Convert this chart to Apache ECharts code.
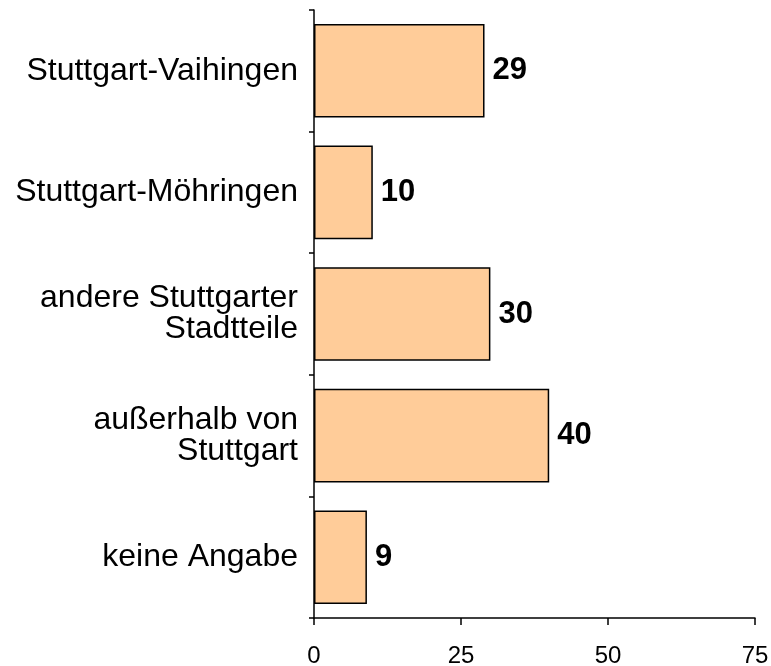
<!DOCTYPE html>
<html>
<head>
<meta charset="utf-8">
<script src="https://cdn.jsdelivr.net/npm/echarts@6/dist/echarts.min.js"></script>
<style>
  html, body { margin: 0; padding: 0; background: #fff; }
  #chart { width: 771px; height: 666px; }
</style>
</head>
<body>
<div id="chart"></div>
<script>
// Wohnort der Befragten (Anzahl)
const categories = [
  'Stuttgart-Vaihingen',
  'Stuttgart-Möhringen',
  'andere Stuttgarter\nStadtteile',
  'außerhalb von\nStuttgart',
  'keine Angabe'
];
const values = [29, 10, 30, 40, 9];
const xTicks = { min: 0, max: 75, interval: 25 };

const chart = echarts.init(document.getElementById('chart'), null, { renderer: 'canvas' });
chart.setOption({
  animation: false,
  backgroundColor: '#ffffff',
  textStyle: { fontFamily: 'Liberation Sans, Arial, sans-serif' },
  grid: { left: 314, right: 16, top: 10, bottom: 48, containLabel: false, outerBoundsMode: 'none' },
  xAxis: {
    type: 'value',
    min: xTicks.min,
    max: xTicks.max,
    interval: xTicks.interval,
    axisLine: { show: true, lineStyle: { color: '#000', width: 1.5 } },
    axisTick: { show: true, length: 7, lineStyle: { color: '#000', width: 1.5 } },
    axisLabel: { color: '#000', fontSize: 24, margin: 26 },
    splitLine: { show: false }
  },
  yAxis: {
    type: 'category',
    data: categories,
    inverse: true,
    axisLine: { show: true, lineStyle: { color: '#000', width: 1.5 } },
    axisTick: { show: true, length: 5, alignWithLabel: false, lineStyle: { color: '#000', width: 1.5 } },
    axisLabel: { color: '#000', fontSize: 32, lineHeight: 31, margin: 16, align: 'right' },
    splitLine: { show: false }
  },
  series: [{
    type: 'bar',
    data: values,
    barCategoryGap: '23%',
    itemStyle: { color: '#FFCC99', borderColor: '#000', borderWidth: 1.5 },
    label: {
      show: true,
      position: 'right',
      distance: 8,
      color: '#000',
      fontSize: 31,
      fontWeight: 'bold'
    }
  }]
});
</script>
</body>
</html>
